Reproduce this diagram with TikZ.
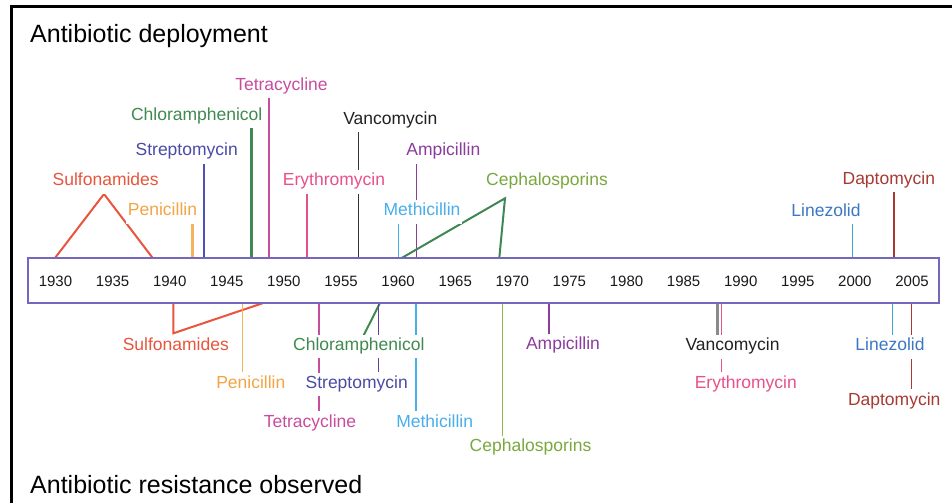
\documentclass[tikz,border=0pt]{standalone}
\usepackage{fontspec}
\setmainfont{Liberation Sans}
\usetikzlibrary{backgrounds}
\definecolor{csulf}{HTML}{E8553C}
\definecolor{cpen}{HTML}{F4A445}
\definecolor{cpenl}{HTML}{F6B35E}
\definecolor{cstr}{HTML}{4A4BA6}
\definecolor{cstrl}{HTML}{5050B0}
\definecolor{cstrb}{HTML}{6A3C9E}
\definecolor{cchl}{HTML}{3F8A4F}
\definecolor{ctet}{HTML}{C84D9F}
\definecolor{cery}{HTML}{E8508A}
\definecolor{cvan}{HTML}{222222}
\definecolor{cvanl}{HTML}{333333}
\definecolor{cvang}{HTML}{8A8A8A}
\definecolor{camp}{HTML}{8C3C9C}
\definecolor{cmet}{HTML}{48AEEC}
\definecolor{ccep}{HTML}{7AA83F}
\definecolor{ccept}{HTML}{3F8752}
\definecolor{ccepl}{HTML}{8DBA4D}
\definecolor{clin}{HTML}{3B78C4}
\definecolor{clinl}{HTML}{3FA5D5}
\definecolor{cdap}{HTML}{A73A32}
\definecolor{cbar}{HTML}{7468BE}
\begin{document}
\begin{tikzpicture}[x=1pt,y=-1pt,
  lab/.style={anchor=base, font=\fontsize{17.5}{20}\selectfont, text height=12.5pt, text depth=5pt, inner xsep=2pt, inner ysep=3pt, fill=white},
  yearlab/.style={anchor=base, font=\fontsize{15}{18}\selectfont, text=black!90, inner sep=0pt},
  title/.style={anchor=base west, font=\fontsize{25}{30}\selectfont, inner sep=0pt},
  ln/.style={line width=1.5pt},
  tri/.style={line width=2pt, line join=miter}]
\useasboundingbox (0,0) rectangle (952,503);
% frame
\draw[line width=3pt] (10,6.7) -- (952,6.7);
\draw[line width=3pt] (11.7,5.2) -- (11.7,503);
% titles
\node[title] (ttop) at (30,42.5) {Antibiotic deployment};
\node[title] (tbot) at (30,493.5) {Antibiotic resistance observed};
% bar
\node[draw=cbar, line width=2pt, fill=white, minimum width=911pt, minimum height=45pt, inner sep=0pt] (bar) at (483.5,280.5) {};
\foreach \yr [count=\i from 0] in {1930,1935,...,2005}
  \node[yearlab] (y\yr) at ({55.5+\i*57.1},286.7) {\yr};
% top labels
\node[lab, text=csulf] (sulfT) at (105.7,185.6) {Sulfonamides};
\node[lab, text=cpen] (penT) at (162.5,215.6) {Penicillin};
\node[lab, text=cstr] (strT) at (186.7,155.6) {Streptomycin};
\node[lab, text=cchl] (chlT) at (196.7,120) {Chloramphenicol};
\node[lab, text=ctet] (tetT) at (281.5,90) {Tetracycline};
\node[lab, text=cery] (eryT) at (334,185.6) {Erythromycin};
\node[lab, text=cvan] (vanT) at (390.3,124) {Vancomycin};
\node[lab, text=camp] (ampT) at (443.3,155.6) {Ampicillin};
\node[lab, text=cmet] (metT) at (422,215.6) {Methicillin};
\node[lab, text=ccep] (cepT) at (547,185.6) {Cephalosporins};
\node[lab, text=clin] (linT) at (826,216) {Linezolid};
\node[lab, text=cdap] (dapT) at (888.8,184) {Daptomycin};
% bottom labels
\node[lab, text=csulf] (sulfB) at (175.8,350) {Sulfonamides};
\node[lab, text=cpen] (penB) at (250.8,388) {Penicillin};
\node[lab, text=ctet] (tetB) at (310,427) {Tetracycline};
\node[lab, text=cchl] (chlB) at (358.8,350) {Chloramphenicol};
\node[lab, text=cstr] (strB) at (356.7,388) {Streptomycin};
\node[lab, text=cmet] (metB) at (434.7,427) {Methicillin};
\node[lab, text=ccep] (cepB) at (530.5,451.5) {Cephalosporins};
\node[lab, text=camp] (ampB) at (563,349.5) {Ampicillin};
\node[lab, text=cvan] (vanB) at (732.5,350.5) {Vancomycin};
\node[lab, text=cery] (eryB) at (745.8,388) {Erythromycin};
\node[lab, text=clin] (linB) at (890,350.5) {Linezolid};
\node[lab, text=cdap] (dapB) at (894.2,405) {Daptomycin};
% attachment points on the bar
\coordinate (sulfT0) at (55,258);   \coordinate (sulfTa) at (104,194); \coordinate (sulfT1) at (152.7,258);
\coordinate (penT0) at (192.3,258);
\coordinate (strT0) at (204,258);
\coordinate (chlT0) at (251.7,258);
\coordinate (tetT0) at (269,258);
\coordinate (eryT0) at (307,258);
\coordinate (vanT0) at (358.7,258);
\coordinate (ampT0) at (416.3,258);
\coordinate (metT0) at (398.3,258);
\coordinate (cepT0) at (401.7,258); \coordinate (cepTa) at (505,198.3); \coordinate (cepT1) at (499.3,258);
\coordinate (linT0) at (852.3,258);
\coordinate (dapT0) at (894,258);
\coordinate (sulfB0) at (173.3,303); \coordinate (sulfBa) at (173.3,333.3); \coordinate (sulfB1) at (263.3,303);
\coordinate (penB0) at (242.3,303);
\coordinate (tetB0) at (319,303);
\coordinate (chlB0) at (380,303); \coordinate (chlBa) at (363.3,336);
\coordinate (strB0) at (378.3,303);
\coordinate (metB0) at (416,303);
\coordinate (cepB0) at (502.7,303);
\coordinate (ampB0) at (549,303);
\coordinate (vanB0) at (717.3,303);
\coordinate (eryB0) at (721.3,303);
\coordinate (linB0) at (892.3,303);
\coordinate (dapB0) at (911.7,303);
\begin{pgfonlayer}{background}
% top connectors
\draw[tri, csulf] (sulfT0) -- (sulfTa) -- (sulfT1);
\draw[line width=2.5pt, cpenl] (penT0) -- (penT0 |- penT.south);
\draw[ln, cstrl] (strT0) -- (strT0 |- strT.south);
\draw[line width=2.5pt, cchl] (chlT0) -- (chlT0 |- chlT.south);
\draw[ln, ctet] (tetT0) -- (tetT0 |- tetT.south);
\draw[ln, cery] (eryT0) -- (eryT0 |- eryT.south);
\draw[ln, cvanl] (vanT0) -- (vanT0 |- vanT.south);
\draw[ln, camp] (ampT0) -- (ampT0 |- ampT.south);
\draw[ln, cmet] (metT0) -- (metT0 |- metT.south);
\draw[tri, ccept] (cepT0) -- (cepTa) -- (cepT1);
\draw[ln, clinl] (linT0) -- (linT0 |- linT.south);
\draw[ln, cdap] (dapT0) -- (dapT0 |- dapT.south);
% bottom connectors
\draw[tri, csulf] (sulfB0) -- (sulfBa) -- (sulfB1);
\draw[ln, cpenl] (penB0) -- (penB0 |- penB.north);
\draw[ln, ctet] (tetB0) -- (tetB0 |- tetB.north);
\draw[tri, cchl] (chlB0) -- (chlBa);
\draw[ln, cstrb] (strB0) -- (strB0 |- strB.north);
\draw[ln, cmet] (metB0) -- (metB0 |- metB.north);
\draw[ln, ccepl] (cepB0) -- (cepB0 |- cepB.north);
\draw[ln, camp] (ampB0) -- (ampB0 |- ampB.north);
\draw[line width=2.5pt, cvang] (vanB0) -- (vanB0 |- vanB.north);
\draw[ln, cery] (eryB0) -- (eryB0 |- eryB.north);
\draw[ln, clinl] (linB0) -- (linB0 |- linB.north);
\draw[ln, cdap] (dapB0) -- (dapB0 |- dapB.north);
\end{pgfonlayer}
\end{tikzpicture}
\end{document}
